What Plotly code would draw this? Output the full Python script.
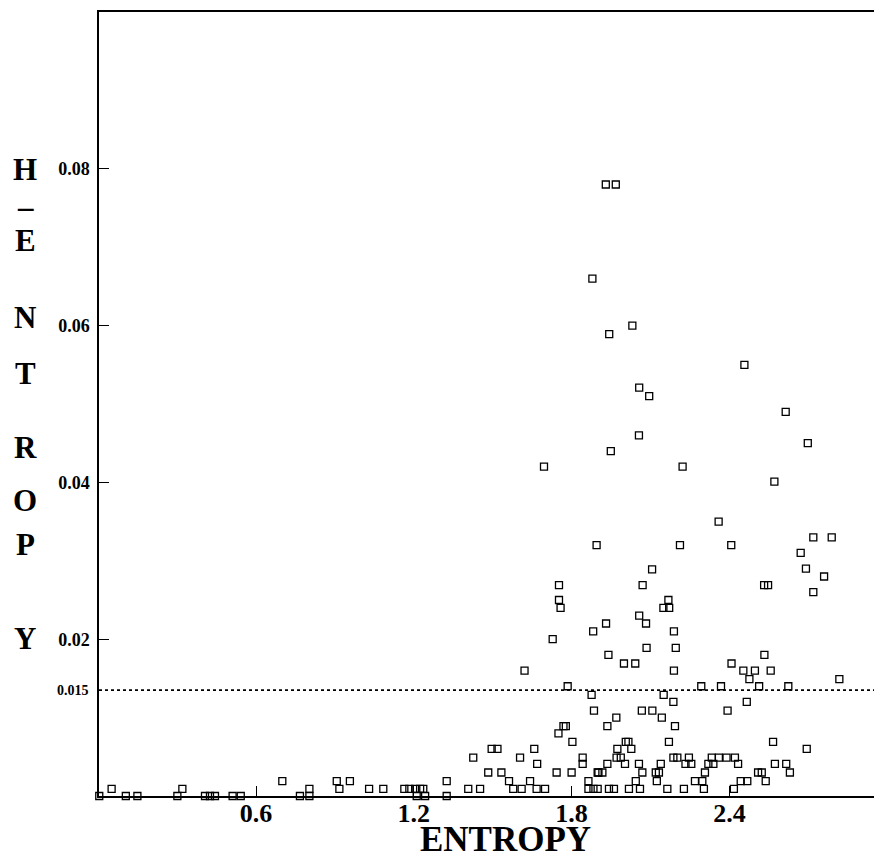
import plotly.graph_objects as go

# ---- data (ENTROPY vs H-ENTROPY) ----
entropy = [
    # upper cloud
    1.930, 1.968, 1.879, 2.031, 1.943, 2.457, 2.057, 2.095, 2.614,
    2.056, 1.949, 1.695, 2.222, 2.698, 2.571, 2.359, 2.719, 2.789, 1.895,
    2.212, 2.407, 2.671, 2.106, 2.691, 2.760, 1.752, 2.070, 2.532, 2.547,
    2.719, 1.752, 1.758, 2.168, 2.149, 2.171, 2.057, 2.083, 1.931, 1.882,
    2.189, 1.728, 2.085, 2.196, 1.940, 1.999, 2.042, 2.189, 2.408, 2.533,
    2.453, 2.497, 2.557, 2.476, 2.818, 1.785, 2.293, 2.368, 2.513, 2.624,
    1.876, 2.150, 2.187, 2.466, 1.621,
    # lower band, middle
    1.885, 1.769, 1.778, 1.750, 1.803, 1.496, 1.518, 1.426, 1.604, 1.658,
    1.669, 1.842, 1.842, 1.483, 1.533, 1.562, 1.642, 1.743, 1.800, 1.864,
    1.899, 1.325, 1.325, 0.907, 0.957, 0.917, 0.803, 0.767, 0.803, 1.030,
    1.084, 1.164, 1.183, 1.205, 1.224, 1.236, 1.211, 1.243, 1.407, 1.452,
    1.578, 1.610, 1.667, 1.699, 1.864, 1.883, 1.899,
    # lower band, left
    0.004, 0.051, 0.105, 0.149, 0.301, 0.320, 0.406, 0.425, 0.444, 0.511,
    0.542, 0.700,
    # lower band, right
    2.067, 2.107, 2.393, 1.970, 2.143, 1.936, 2.193, 2.006, 2.016, 2.170,
    2.566, 2.694, 1.974, 2.027, 1.971, 1.987, 2.187, 2.202, 2.246, 2.333,
    2.360, 2.389, 2.421, 1.936, 2.003, 2.056, 2.139, 2.233, 2.255, 2.320,
    2.339, 2.433, 2.573, 2.616, 1.902, 1.917, 2.069, 2.120, 2.132, 2.307,
    2.509, 2.523, 2.630, 2.044, 2.124, 2.269, 2.297, 2.443, 2.468, 2.538,
    1.942, 1.961, 2.018, 2.060, 2.164, 2.227, 2.303, 2.417,
]

h_entropy = [
    0.0780, 0.0780, 0.0660, 0.0600, 0.0589, 0.0550, 0.0521, 0.0510, 0.0490,
    0.0460, 0.0440, 0.0420, 0.0420, 0.0450, 0.0401, 0.0350, 0.0330, 0.0330, 0.0320,
    0.0320, 0.0320, 0.0310, 0.0289, 0.0290, 0.0280, 0.0269, 0.0269, 0.0269, 0.0269,
    0.0260, 0.0250, 0.0240, 0.0250, 0.0240, 0.0240, 0.0230, 0.0220, 0.0220, 0.0210,
    0.0210, 0.0200, 0.0189, 0.0189, 0.0180, 0.0169, 0.0169, 0.0160, 0.0169, 0.0180,
    0.0160, 0.0160, 0.0160, 0.0149, 0.0149, 0.0140, 0.0140, 0.0140, 0.0140, 0.0140,
    0.0129, 0.0129, 0.0120, 0.0120, 0.0160,
    0.0109, 0.0089, 0.0089, 0.0080, 0.0069, 0.0060, 0.0060, 0.0049, 0.0049, 0.0060,
    0.0041, 0.0049, 0.0041, 0.0030, 0.0030, 0.0019, 0.0019, 0.0030, 0.0030, 0.0019,
    0.0030, 0.0019, 0.0000, 0.0019, 0.0019, 0.0009, 0.0009, 0.0000, 0.0000, 0.0009,
    0.0009, 0.0009, 0.0009, 0.0009, 0.0009, 0.0009, 0.0000, 0.0000, 0.0009, 0.0009,
    0.0009, 0.0009, 0.0009, 0.0009, 0.0009, 0.0009, 0.0009,
    0.0000, 0.0009, 0.0000, 0.0000, 0.0000, 0.0009, 0.0000, 0.0000, 0.0000, 0.0000,
    0.0000, 0.0019,
    0.0109, 0.0109, 0.0109, 0.0100, 0.0100, 0.0089, 0.0089, 0.0069, 0.0069, 0.0069,
    0.0069, 0.0060, 0.0060, 0.0060, 0.0049, 0.0049, 0.0049, 0.0049, 0.0049, 0.0049,
    0.0049, 0.0049, 0.0049, 0.0041, 0.0041, 0.0041, 0.0041, 0.0041, 0.0041, 0.0041,
    0.0041, 0.0041, 0.0041, 0.0041, 0.0030, 0.0030, 0.0030, 0.0030, 0.0030, 0.0030,
    0.0030, 0.0030, 0.0030, 0.0019, 0.0019, 0.0019, 0.0019, 0.0019, 0.0019, 0.0019,
    0.0009, 0.0009, 0.0009, 0.0009, 0.0009, 0.0009, 0.0009, 0.0009,
]

x_tickvals = [0.6, 1.2, 1.8, 2.4]
x_ticktext = ["0.6", "1.2", "1.8", "2.4"]
y_tickvals = [0.02, 0.04, 0.06, 0.08]
y_ticktext = ["0.02", "0.04", "0.06", "0.08"]
threshold_value = 0.0135      # drawn position of the dotted reference line
threshold_label = "0.015"
x_title = "ENTROPY"
y_title_letters = ["H", "–", "E", "N", "T", "R", "O", "P", "Y"]

SERIF = "Liberation Serif"

fig = go.Figure()
fig.add_trace(go.Scatter(
    x=entropy, y=h_entropy, mode="markers", cliponaxis=False,
    marker=dict(symbol="square-open", size=7, color="black",
                line=dict(width=1.3, color="black")),
    showlegend=False,
))

fig.add_shape(type="line", xref="paper", yref="y", x0=0, x1=1,
              y0=threshold_value, y1=threshold_value,
              line=dict(color="black", width=1.6, dash="dot"))

W, H = 874, 861
L, R, T, B = 99, 0, 12, 65
pw, ph = W - L - R, H - T - B


def px_to_paper(px, py):
    return (px - L) / pw, (H - B - py) / ph


annotations = []
# stacked y-axis title letters
letter_rows = [169, 206, 240, 318, 373, 447, 500, 544, 638]
for ch, row in zip(y_title_letters, letter_rows):
    ax, ay = px_to_paper(25, row)
    annotations.append(dict(text=ch, xref="paper", yref="paper", x=ax, y=ay,
                            xanchor="center", yanchor="middle", showarrow=False,
                            font=dict(family=SERIF, size=31, color="black", weight="bold")))
# x-axis title (sits on the bottom edge of the figure)
ax, ay = px_to_paper(505, 860)
annotations.append(dict(text=x_title, xref="paper", yref="paper", x=ax, y=ay,
                        xanchor="center", yanchor="bottom", showarrow=False,
                        borderpad=0,
                        font=dict(family=SERIF, size=35, color="black", weight="bold")))
# threshold label
ax, _ = px_to_paper(91, 0)
annotations.append(dict(text=threshold_label, xref="paper", yref="y", x=ax,
                        y=threshold_value, xanchor="right", yanchor="middle",
                        showarrow=False,
                        font=dict(family=SERIF, size=14, color="black", weight="bold")))

fig.update_layout(
    width=W, height=H,
    margin=dict(l=L, r=R, t=T, b=B, pad=0),
    paper_bgcolor="white", plot_bgcolor="white",
    annotations=annotations,
    xaxis=dict(range=[0.003, 0.003 + pw / 263.0], showgrid=False, zeroline=False,
               showline=True, linecolor="black", linewidth=1.5, mirror=True,
               ticks="inside", ticklen=10, tickwidth=1, tickcolor="black",
               tickvals=x_tickvals, ticktext=x_ticktext, ticklabelstandoff=-7,
               tickfont=dict(family=SERIF, size=26, color="black", weight="bold")),
    yaxis=dict(range=[0, 0.1], showgrid=False, zeroline=False,
               showline=True, linecolor="black", linewidth=1.5, mirror=False,
               ticks="inside", ticklen=10, tickwidth=1, tickcolor="black",
               tickvals=y_tickvals, ticktext=y_ticktext, ticklabelstandoff=4,
               tickfont=dict(family=SERIF, size=18, color="black", weight="bold")),
)

fig.write_html(
    "out.html",
    config={"displayModeBar": False},
    post_script="document.body.style.margin='0';document.body.style.overflow='hidden';",
)
